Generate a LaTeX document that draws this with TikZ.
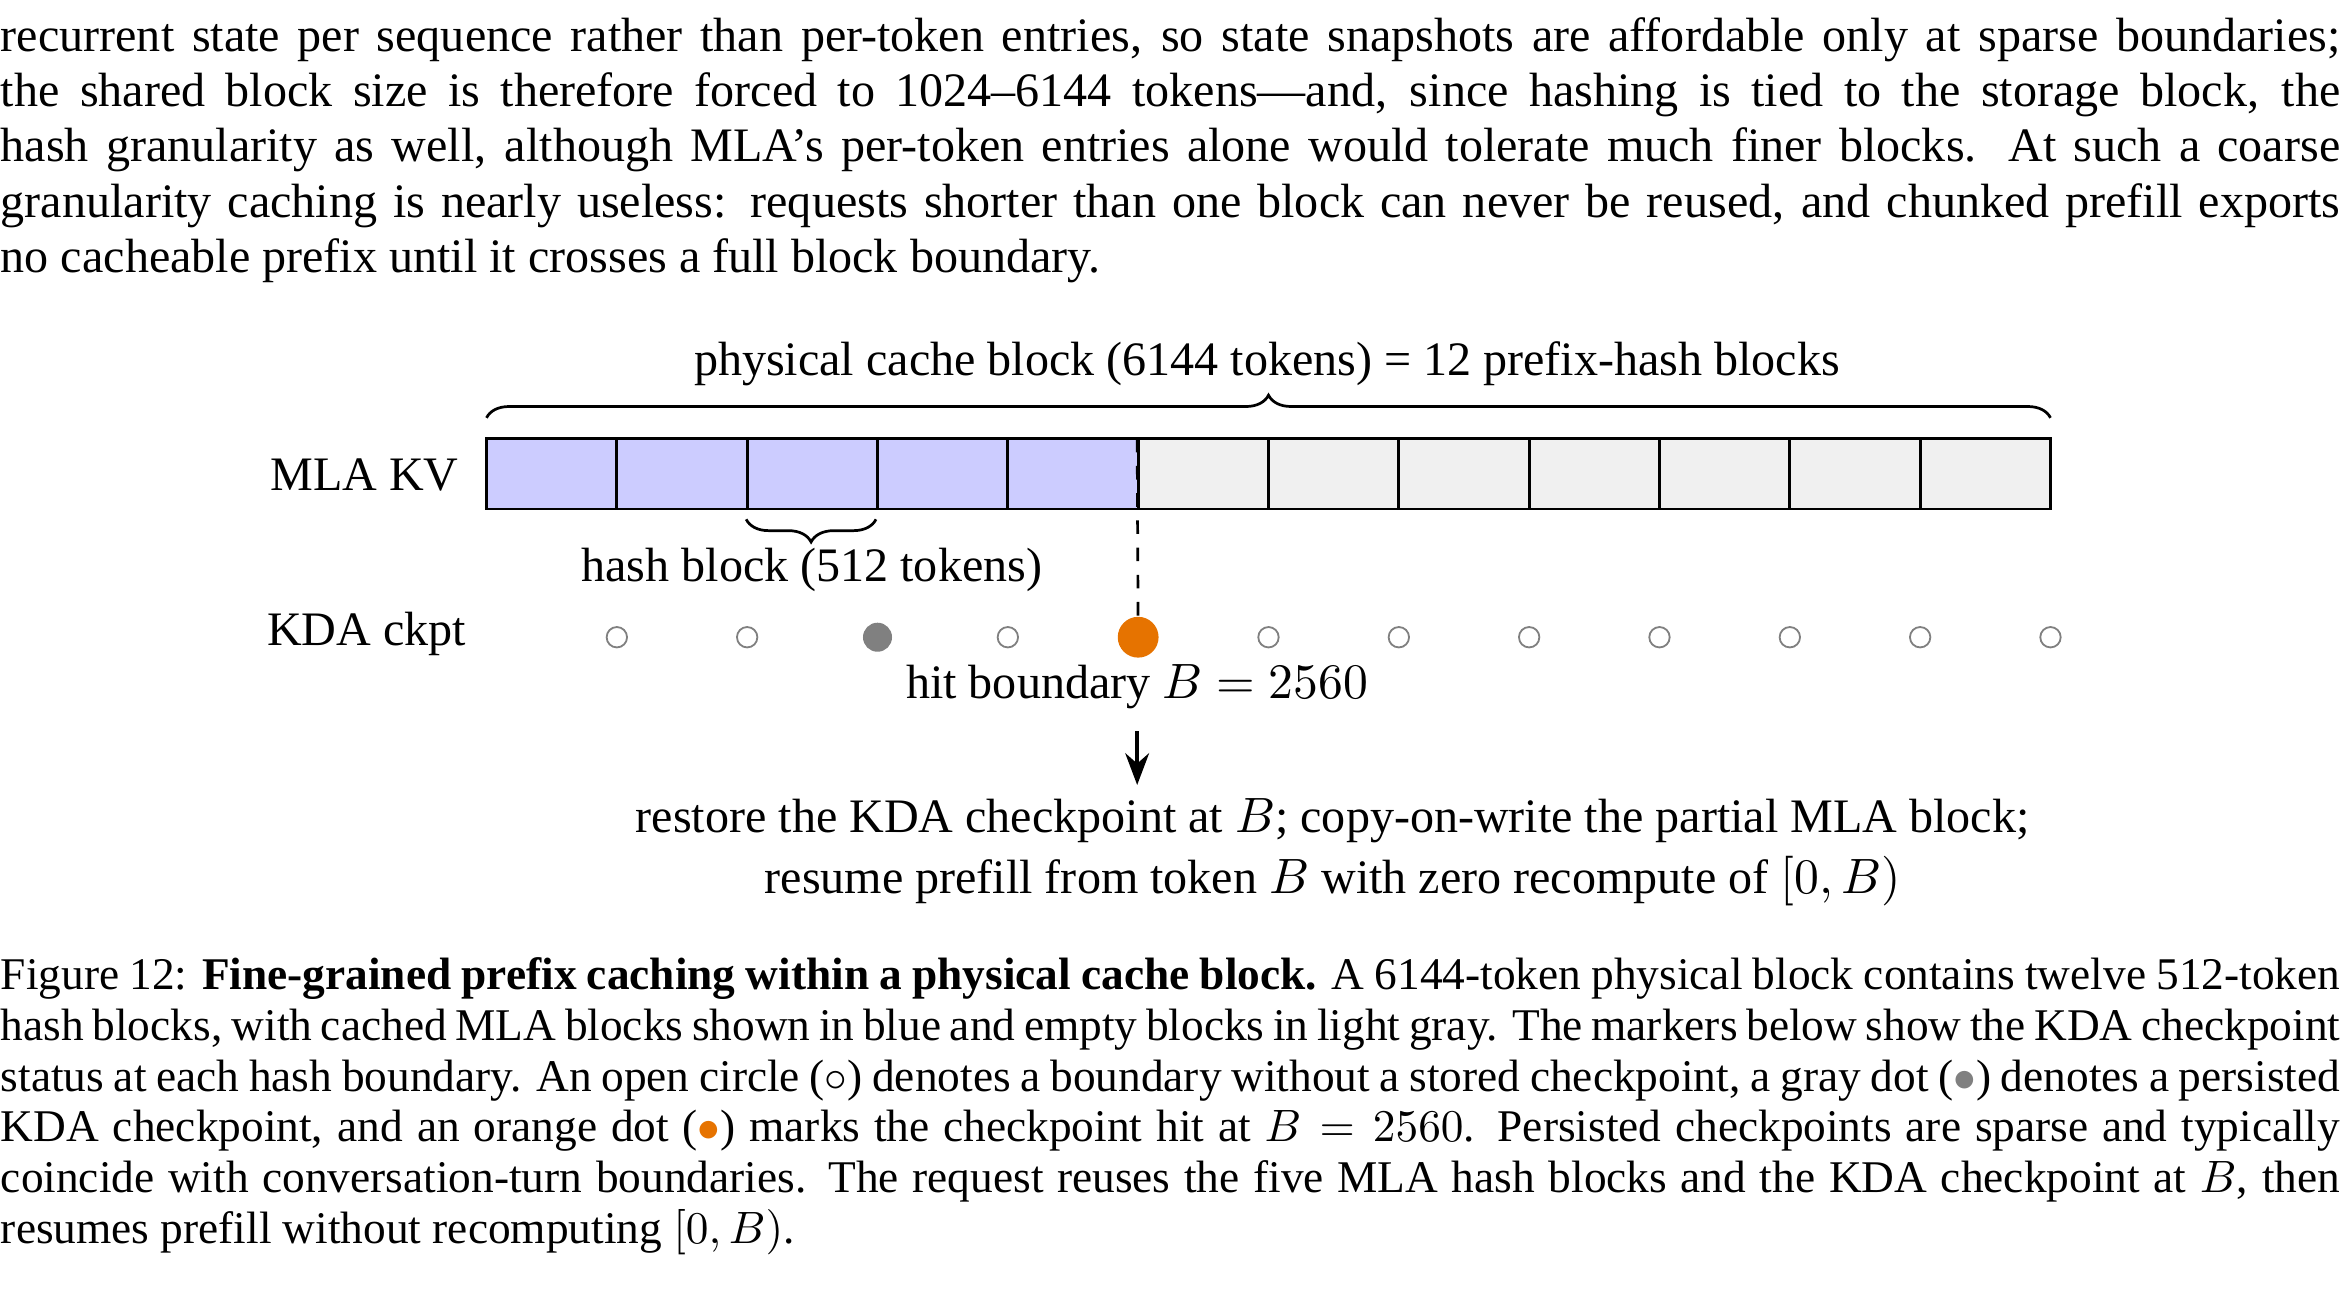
\documentclass[tikz,border=0pt]{standalone}
\usepackage[no-math]{fontspec}
\setmainfont{Liberation Serif}
\usepackage{amsmath}
\usetikzlibrary{arrows.meta,positioning,calc,decorations.pathreplacing}
\definecolor{kvblue}{RGB}{204,204,255}
\definecolor{kvgray}{RGB}{240,240,240}
\definecolor{hitorange}{RGB}{230,115,0}
\tikzset{para/.style={anchor=north west, inner sep=0pt, text width=18.13cm, align=justify, font=\fontsize{10.6}{12.2}\selectfont}}
\tikzset{lbl/.style={font=\fontsize{10.6}{12.4}\selectfont}}
\tikzset{ckpt/.style={circle, draw=gray, inner sep=0pt, minimum size=4.5pt, line width=0.4pt}}
\tikzset{brc/.style={decorate, decoration={brace, amplitude=5pt}, semithick}}
\newcommand{\Bv}{B}

\begin{document}
\begin{tikzpicture}[x=0.01156cm, y=-0.01156cm]
	\useasboundingbox (0,0) rectangle (1568,871);
	\node[para] (top) at (0,11) {recurrent state per sequence rather than per-token entries, so state snapshots are affordable only at sparse boundaries;\linebreak
	the shared block size is therefore forced to 1024--6144 tokens---and, since hashing is tied to the storage block, the\linebreak
	hash granularity as well, although MLA's per-token entries alone would tolerate much finer blocks. At such a coarse\linebreak
	granularity caching is nearly useless: requests shorter than one block can never be reused, and chunked prefill exports\linebreak
	no cacheable prefix until it crosses a full block boundary.};

	% cache cells
	\foreach \i in {0,...,11} {
		\pgfmathsetmacro{\xa}{326+87.333*\i}
		\pgfmathsetmacro{\xb}{326+87.333*(\i+1)}
		\ifnum\i<5 \def\cc{kvblue}\else\def\cc{kvgray}\fi
		\draw[fill=\cc, semithick] (\xa,294) rectangle (\xb,341);
	}
	\coordinate (L) at (326,294);
	\coordinate (R) at (1374,294);
	\coordinate (hit) at (762,294);
	\node[anchor=east, lbl] (mla) at (318,318) {MLA KV};
	\draw[brc] ($(L)+(0,-14)$) -- ($(R)+(0,-14)$) coordinate[midway] (topbr);
	\node[lbl] (phys) at (849,244) {physical cache block (6144 tokens) = 12 prefix-hash blocks};
	\draw[brc] (587,348) -- (500,348);
	\node[lbl] (hb) at (544,382) {hash block (512 tokens)};

	% checkpoints
	\node[anchor=east, lbl] (kda) at (323,425) {KDA ckpt};
	\foreach \i in {1,...,12} {
		\pgfmathsetmacro{\xc}{326+87.333*\i}
		\ifnum\i=3
			\node[ckpt, fill=gray, draw=gray, minimum size=6pt] (c\i) at (\xc,427) {};
		\else\ifnum\i=5
			\node[circle, fill=hitorange, inner sep=0pt, minimum size=9pt] (c\i) at (\xc,427) {};
		\else
			\node[ckpt] (c\i) at (\xc,427) {};
		\fi\fi
	}
	\draw[dashed, semithick] (hit) -- (c5);
	\node[lbl] (hitlbl) at (762,460) {hit boundary $\Bv = 2560$};
	\node[lbl, align=center] (res) at (893,571) {restore the KDA checkpoint at $\Bv$; copy-on-write the partial MLA block;\\[1pt] resume prefill from token $\Bv$ with zero recompute of $[0,\Bv)$};
	\draw[-{Stealth[length=7pt]}, thick] (762,490) -- (762,526);

	% caption
	\node[para, font=\fontsize{10}{11.2}\selectfont] (cap) at (0,641) {Figure 12: \textbf{Fine-grained prefix caching within a physical cache block.} A 6144-token physical block contains twelve 512-token\linebreak
	hash blocks, with cached MLA blocks shown in blue and empty blocks in light gray. The markers below show the KDA checkpoint\linebreak
	status at each hash boundary. An open circle ($\circ$) denotes a boundary without a stored checkpoint, a gray dot ({\color{gray}$\bullet$}) denotes a persisted\linebreak
	KDA checkpoint, and an orange dot ({\color{hitorange}$\bullet$}) marks the checkpoint hit at $\Bv = 2560$. Persisted checkpoints are sparse and typically\linebreak
	coincide with conversation-turn boundaries. The request reuses the five MLA hash blocks and the KDA checkpoint at $\Bv$, then\linebreak
	resumes prefill without recomputing $[0,\Bv)$.};
\end{tikzpicture}
\end{document}
